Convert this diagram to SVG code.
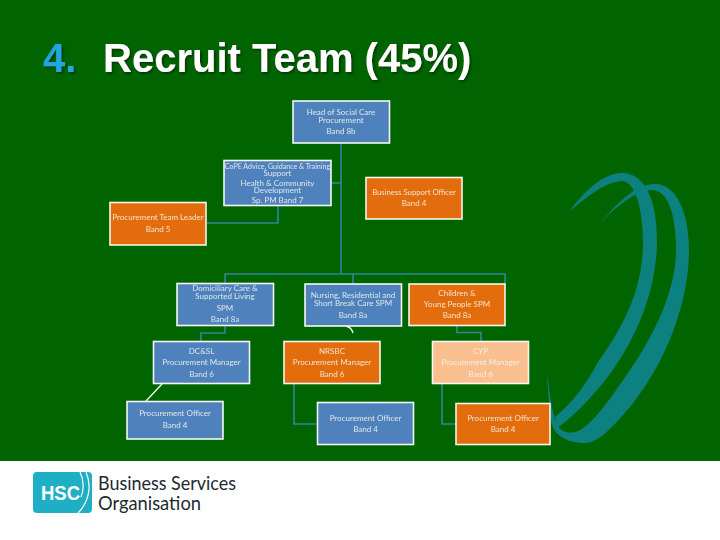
<svg xmlns="http://www.w3.org/2000/svg" width="720" height="540" viewBox="0 0 720 540">
<style>
.n{stroke:#f4f8ee;stroke-width:1.6}
.b{fill:#4f81bd}
.o{fill:#e36c0a}
.p{fill:#fabf8f}
.t{font-family:"Lato","Liberation Sans",sans-serif;font-size:8px;fill:#f2f5f0;text-anchor:middle;opacity:.88}
.c{fill:none;stroke:#31859c;stroke-width:1.6}
.s{fill:#0d8080}
.h{font-family:"Liberation Sans",Arial,sans-serif;font-weight:700;font-size:40px}
.l{font-family:"Lato","Liberation Sans",sans-serif;font-size:19px;fill:#222a30}
</style>
<defs>
<filter id="soft" x="-5%" y="-5%" width="110%" height="110%"><feGaussianBlur stdDeviation="0.35"/></filter>
<filter id="sh" x="-5%" y="-10%" width="110%" height="130%"><feDropShadow dx="1.5" dy="1.5" stdDeviation="0.8" flood-color="#003000" flood-opacity=".9"/></filter>
</defs>
<rect width="720" height="540" fill="#fff"/>
<rect width="720" height="461" fill="#006400"/>
<g id="swoosh">
<path class="s" d="M569 212C583 193 602 173 622 173C645 173 657 200 657 240C657 290 636 342 603 383C588 401 572 418 557 428L555 417C572 403 586 385 598 362C624 326 642 290 643 245C643 210 636 182 622 181C605 182 585 198 569 212Z"/>
<path class="s" d="M601 223C615 205 635 184 655 184C676 184 689 212 689 250C689 300 668 360 630 407C612 428 598 443 585 443C568 443 553 436 551 420C549 405 548 390 547 373C550 392 551 410 557 425C562 433 570 434 578 431C590 426 606 405 621 383C650 343 676 295 676 250C676 215 668 190 652 190C635 191 615 207 601 223Z"/>
</g>
<g id="connectors" class="c">
<path d="M341 143V274M331.500 183H341M278 205.700V223H206.500"/>
<path d="M225 284V274H505V284M353 284V274"/>
<path d="M225 325.700V333H201V341"/>
<path d="M457 325.700V332.500H481V341"/>
<path d="M294 384V424H317M442 384V424H456"/>
<path d="M346 326C350 327 352 329 353 333" style="stroke:#f4f8ee;stroke-width:1.400"/>
<path d="M162 384L146 401" style="stroke:#f4f8ee;stroke-width:1.400"/>
</g>
<g id="title" class="h" filter="url(#sh)">
<text x="43" y="72" fill="#22a7dc">4.</text>
<text x="103" y="72" fill="#fff">Recruit Team (45%)</text>
</g>
<g filter="url(#soft)">
<g id="head"><rect class="n b" x="293" y="101" width="96.500" height="42"/>
<text class="t" x="341" y="114.500">Head of Social Care</text><text class="t" x="341" y="122.500">Procurement</text><text class="t" x="341" y="133.500">Band 8b</text></g>
<g id="cope"><rect class="n b" x="224" y="160.500" width="107" height="45"/>
<text class="t" x="277.500" y="168.500" style="font-size:7.100px">CoPE Advice, Guidance &amp; Training</text><text class="t" x="277.500" y="175.500">Support</text><text class="t" x="277.500" y="186">Health &amp; Community</text><text class="t" x="277.500" y="193">Development</text><text class="t" x="277.500" y="203">Sp. PM Band 7</text></g>
<g id="leader"><rect class="n o" x="110" y="202.500" width="96" height="42.500"/>
<text class="t" x="158" y="220">Procurement Team Leader</text><text class="t" x="158" y="231.500">Band 5</text></g>
<g id="support"><rect class="n o" x="366" y="177.500" width="96" height="41.500"/>
<text class="t" x="414" y="194.500" style="font-size:7.700px">Business Support Officer</text><text class="t" x="414" y="206">Band 4</text></g>
<g id="dom"><rect class="n b" x="177" y="283.500" width="96.500" height="42"/>
<text class="t" x="225" y="291">Domiciliary Care &amp;</text><text class="t" x="225" y="299">Supported Living</text><text class="t" x="225" y="311">SPM</text><text class="t" x="225" y="322">Band 8a</text></g>
<g id="nursing"><rect class="n b" x="305" y="284" width="96.500" height="42"/>
<text class="t" x="353" y="298">Nursing, Residential and</text><text class="t" x="353" y="306">Short Break Care SPM</text><text class="t" x="353" y="317.500">Band 8a</text></g>
<g id="children"><rect class="n o" x="409" y="284" width="96" height="41.500"/>
<text class="t" x="457" y="295.500">Children &amp;</text><text class="t" x="457" y="307">Young People SPM</text><text class="t" x="457" y="318">Band 8a</text></g>
<g id="dcsl"><rect class="n b" x="153.500" y="341.500" width="96" height="42"/>
<text class="t" x="201.500" y="354">DC&amp;SL</text><text class="t" x="201.500" y="365">Procurement Manager</text><text class="t" x="201.500" y="376.500">Band 6</text></g>
<g id="nrsbc"><rect class="n o" x="284" y="341.500" width="96" height="42"/>
<text class="t" x="332" y="354">NRSBC</text><text class="t" x="332" y="365">Procurement Manager</text><text class="t" x="332" y="376.500">Band 6</text></g>
<g id="cyp"><rect class="n p" x="432.500" y="341.500" width="96" height="42"/>
<text class="t" x="480.500" y="354">CYP</text><text class="t" x="480.500" y="365">Procurement Manager</text><text class="t" x="480.500" y="376.500">Band 6</text></g>
<g id="po1"><rect class="n b" x="127" y="401.500" width="96" height="37.500"/>
<text class="t" x="175" y="416">Procurement Officer</text><text class="t" x="175" y="428">Band 4</text></g>
<g id="po2"><rect class="n b" x="317.500" y="402.500" width="96" height="42"/>
<text class="t" x="365.500" y="421">Procurement Officer</text><text class="t" x="365.500" y="432">Band 4</text></g>
<g id="po3"><rect class="n o" x="456" y="403.500" width="94" height="41"/>
<text class="t" x="503" y="421">Procurement Officer</text><text class="t" x="503" y="432">Band 4</text></g>
</g>
<g id="logo">
<rect x="33" y="472" width="59" height="41" rx="4" fill="#1eafc4"/>
<path d="M86 472C92 486 89 502 78 513M80 472C84 480 84 490 81 497" fill="none" stroke="#fff" stroke-width="1.200"/>
<text x="41" y="499.500" font-family="'Liberation Sans',sans-serif" font-weight="700" font-size="21" fill="#fff" textLength="39" lengthAdjust="spacingAndGlyphs">HSC</text>
<text class="l" x="98" y="489.500" textLength="138" lengthAdjust="spacingAndGlyphs">Business Services</text>
<text class="l" x="98" y="509.500" textLength="103" lengthAdjust="spacingAndGlyphs">Organisation</text>
</g>
</svg>
